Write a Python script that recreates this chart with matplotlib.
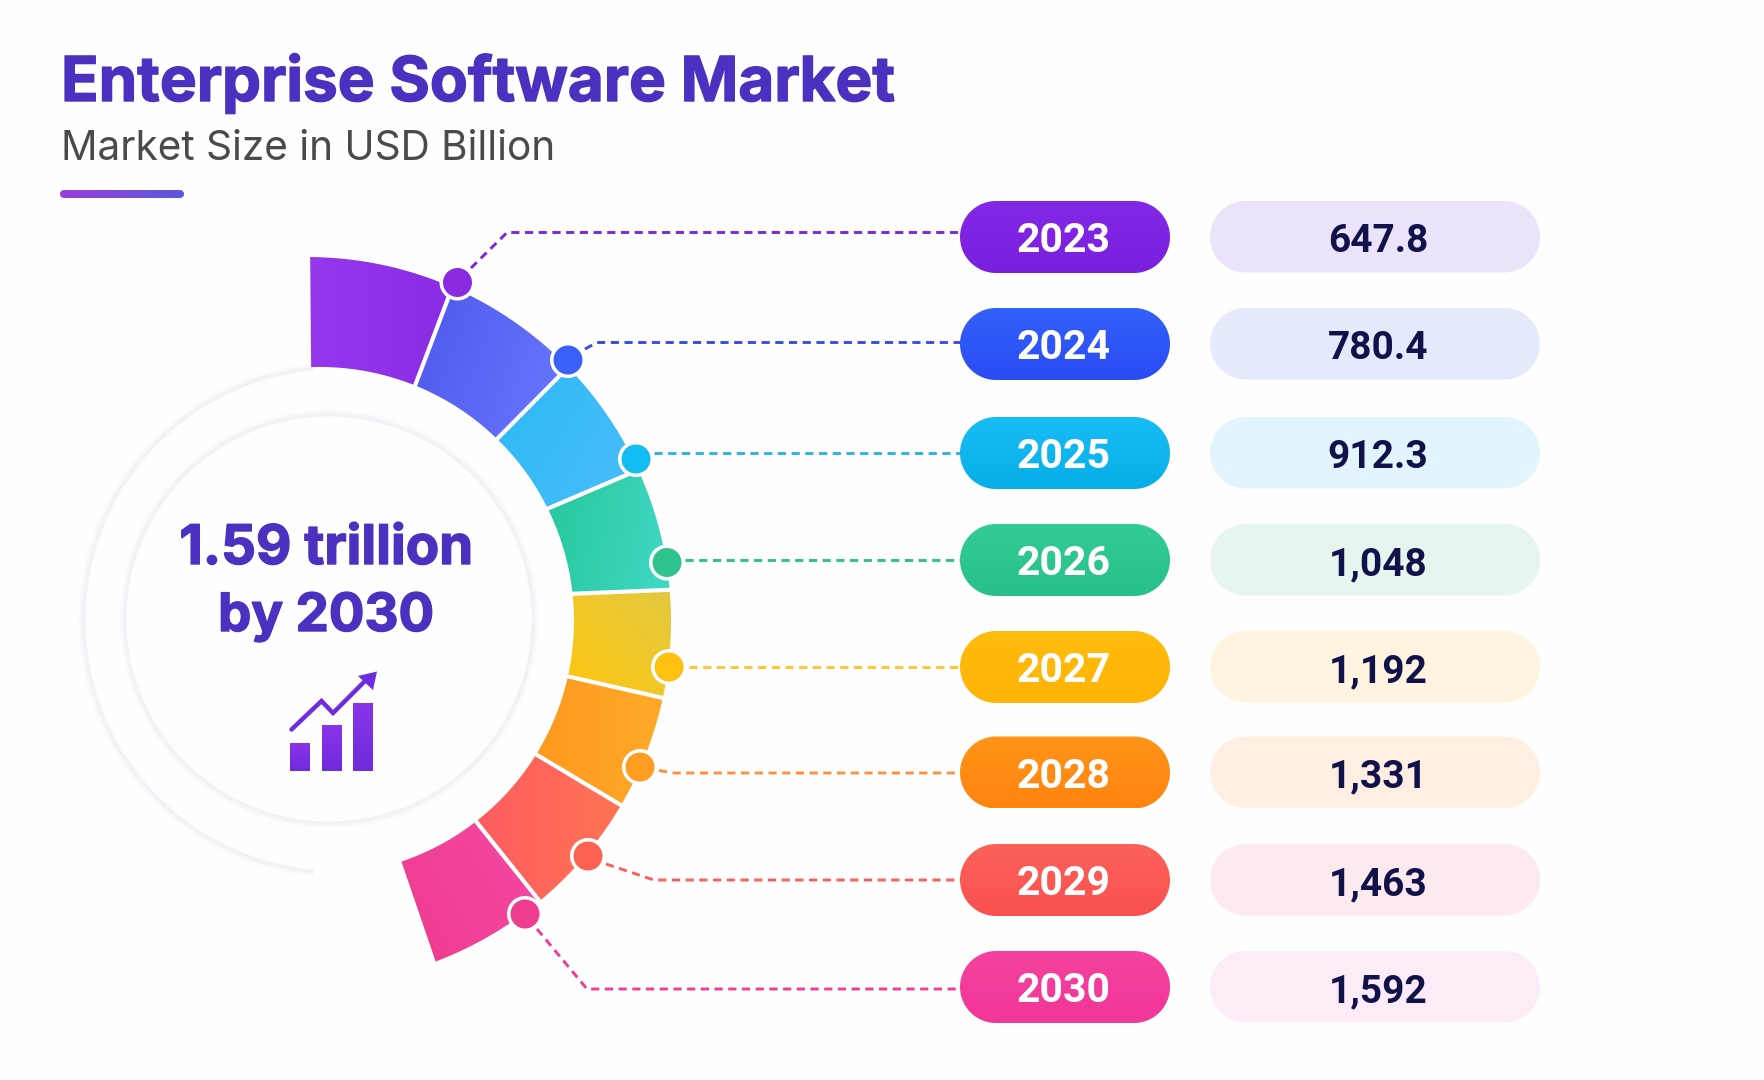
import numpy as np
import matplotlib
matplotlib.use('Agg')
import matplotlib.pyplot as plt
import matplotlib.patheffects as pe
from matplotlib.colors import to_rgb
from matplotlib.patches import Circle, PathPatch, Polygon
from matplotlib.path import Path

years = ['2023', '2024', '2025', '2026', '2027', '2028', '2029', '2030']
values = ['647.8', '780.4', '912.3', '1,048', '1,192', '1,331', '1,463', '1,592']

# pill colours, top and bottom of the gradient
pillTop = ['#8428E8', '#3360FA', '#18BDF4', '#32CC94', '#FFBC0C', '#FF9418', '#FC6259', '#F5429E']
pillBottom = ['#7A1FDE', '#2A4CF4', '#08AEE8', '#28C088', '#FFB408', '#FF8410', '#F95050', '#F03698']
lightPill = ['#EBE3FA', '#E4E9FB', '#E2F4FD', '#E6F6EF', '#FEF4E0', '#FEEFE2', '#FDEAEE', '#FCECF7']
dotColor = ['#8A2BE2', '#3A62F8', '#12BDF2', '#2FC48E', '#FFC012', '#FF9C22', '#FB6252', '#EE3D8F']
lineColor = ['#7A28DC', '#3A4CE8', '#2CB4E8', '#2FC08E', '#FFC53A', '#FF8F3A', '#F8605A', '#EE3D96']

# ring segments, start and end colour of each
segStart = ['#9438EE', '#6A78FC', '#4ABCFC', '#40D8C4', '#E2C940', '#FFAA28', '#FF7454', '#F64AA4']
segEnd = ['#8A2CE4', '#4E58EE', '#2CBAF2', '#28C89C', '#FFC60F', '#FF9820', '#FF5C60', '#EE3A8E']
segAngle = [0, 200, 210, 190, 135, 180, 180, 150]

rowY = [237, 344, 453, 560, 667, 772.5, 880, 987]

# boundaries of the ring segments in degrees
outerAngle = [89.5, 66.5, 44.2, 24.5, 4.9, -12.2, -30.4, -50.3, -69.3]
innerAngle = [92.0, 68.0, 45.8, 26.3, 6.2, -12.6, -31.7, -52.1, -71.3]
outerC = (307, 621)
outerR = 364
innerC = (320, 621)
innerR = 254

dotX = [457.5, 568, 636, 667, 669, 640, 588, 525]
dotY = [282.5, 360, 459, 562.5, 667, 767, 856, 914]
# where the dashed leader leaves the dot and where it turns horizontal
leadStart = [(471, 268), (585, 349), (654, 453), (685, 560), (689, 667), (659, 770.5), (606, 864), (537, 929)]
leadTurn = [(507, 232.5), (597, 342.5), (656, 453), (687, 560), (689, 667), (674, 773), (654, 880), (587, 989)]

titleColor = '#4C30C0'
numColor = '#12124A'
headFont = 'Inter'
numFont = 'Roboto'


def arcPoint(center, r, deg):
    t = np.radians(deg)
    return center[0] + r * np.cos(t), center[1] - r * np.sin(t)


def gradientFill(ax, path, c1, c2, angle=0.0, zorder=2):
    # linear gradient clipped to the path
    box = path.get_extents()
    n = 80
    xx, yy = np.meshgrid(np.linspace(0, 1, n), np.linspace(0, 1, n))
    t = xx * np.cos(np.radians(angle)) + yy * np.sin(np.radians(angle))
    t = (t - t.min()) / (t.max() - t.min())
    a = np.array(to_rgb(c1))
    b = np.array(to_rgb(c2))
    img = a[None, None, :] * (1 - t[..., None]) + b[None, None, :] * t[..., None]
    im = ax.imshow(img, extent=(box.x0, box.x1, box.y1, box.y0), origin='upper',
                   interpolation='bilinear', aspect='auto', zorder=zorder)
    im.set_clip_path(PathPatch(path, transform=ax.transData))


def softRing(ax, center, r, start=0, end=360, zorder=1):
    # faint shadow edge of the white discs
    t = np.radians(np.linspace(start, end, 240))
    for w, alpha in [(8, 0.05), (5, 0.08), (2.5, 0.13)]:
        ax.plot(center[0] + r * np.cos(t), center[1] - r * np.sin(t), color='#D4D4E8',
                lw=w, alpha=alpha, solid_capstyle='butt', zorder=zorder)


def pillPath(x, y, w, h):
    # stadium shape
    r = h / 2
    t = np.radians(np.linspace(90, -90, 40))
    right = np.column_stack([x + w - r + r * np.cos(t), y + r - r * np.sin(t)])
    left = np.column_stack([x + r - r * np.cos(t), y + r + r * np.sin(t)])
    return Path(np.vstack([right, left, right[:1]]))


fig = plt.figure(figsize=(17.64, 10.8), dpi=100, facecolor='#FEFEFE')
ax = fig.add_axes([0, 0, 1, 1])
ax.set_xlim(0, 1764)
ax.set_ylim(1080, 0)
ax.axis('off')

# header
heavy = [pe.withStroke(linewidth=1.0, foreground=titleColor)]
ax.text(61, 101, 'Enterprise Software Market', fontsize=44.6, fontweight='bold',
        family=headFont, color=titleColor, va='baseline', ha='left', path_effects=heavy)
ax.text(61, 160.5, 'Market Size in USD Billion', fontsize=29.2, family=headFont,
        color='#4A4A4A', va='baseline', ha='left')
gradientFill(ax, pillPath(60, 190, 124, 8), '#9A40D8', '#5C58DC')

# white discs behind and inside the ring
softRing(ax, (336, 620), 252, 95, 265)
ax.add_patch(Circle((336, 620), 250.5, fc='#FEFEFE', ec='none', zorder=1.2))
softRing(ax, (329, 619), 204, zorder=1.3)
ax.add_patch(Circle((329, 619), 202.5, fc='#FEFEFE', ec='none', zorder=1.4))

# ring segments
for i in range(len(years)):
    out = [arcPoint(outerC, outerR, a) for a in np.linspace(outerAngle[i], outerAngle[i + 1], 40)]
    inn = [arcPoint(innerC, innerR, a) for a in np.linspace(innerAngle[i + 1], innerAngle[i], 40)]
    gradientFill(ax, Path(out + inn + [out[0]]), segStart[i], segEnd[i], angle=segAngle[i])

for i in range(1, len(years)):
    p = arcPoint(outerC, outerR + 3, outerAngle[i])
    q = arcPoint(innerC, innerR - 3, innerAngle[i])
    ax.plot([p[0], q[0]], [p[1], q[1]], color='white', lw=3, solid_capstyle='butt', zorder=3)

# leaders, dots and pills
yearX = 960
yearW = 210
valX = 1210
valW = 330
pillH = 72
for i in range(len(years)):
    y = rowY[i]
    ax.plot([leadStart[i][0], leadTurn[i][0], yearX + 4], [leadStart[i][1], leadTurn[i][1], leadTurn[i][1]],
            color=lineColor[i], lw=2.1, dashes=(2.8, 1.9), zorder=2.5)
    ax.add_patch(Circle((dotX[i], dotY[i]), 18, fc='white', ec='none', zorder=4))
    ax.add_patch(Circle((dotX[i], dotY[i]), 14.5, fc=dotColor[i], ec='none', zorder=5))
    gradientFill(ax, pillPath(yearX, y - pillH / 2, yearW, pillH), pillTop[i], pillBottom[i], angle=90, zorder=4)
    ax.add_patch(PathPatch(pillPath(valX, y - pillH / 2, valW, pillH - 0.5), fc=lightPill[i], ec='none', zorder=4))
    ax.text(1064, y + 15, years[i], fontsize=29.5, fontweight='bold', family=numFont, color='white',
            ha='center', va='baseline', zorder=6)
    ax.text(1378, y + 15, values[i], fontsize=28, fontweight='bold', family=numFont, color=numColor,
            ha='center', va='baseline', zorder=6)

# centre label
ax.text(326, 564, '1.59 trillion', fontsize=39.3, fontweight='bold', family=headFont, color=titleColor,
        ha='center', va='baseline', zorder=6, path_effects=heavy)
ax.text(326, 631, 'by 2030', fontsize=38, fontweight='bold', family=headFont, color=titleColor,
        ha='center', va='baseline', zorder=6, path_effects=heavy)

# small growth icon
for x0, top in [(290, 743), (321.5, 725), (353, 703)]:
    bar = Path([(x0, top), (x0 + 20, top), (x0 + 20, 771.5), (x0, 771.5), (x0, top)])
    gradientFill(ax, bar, '#8A34E8', '#6E2CDC', angle=90, zorder=6)
ax.plot([291.5, 321.5, 333, 366], [729.5, 701, 713, 680], color='#6E2CDC', lw=3.2,
        solid_joinstyle='miter', solid_capstyle='round', zorder=6)
ax.add_patch(Polygon([(377, 671.5), (373, 690), (358, 676)], fc='#6E2CDC', ec='none', zorder=6))

ax.set_xlim(0, 1764)
ax.set_ylim(1080, 0)
fig.savefig('out.png', dpi=100, facecolor=fig.get_facecolor())
